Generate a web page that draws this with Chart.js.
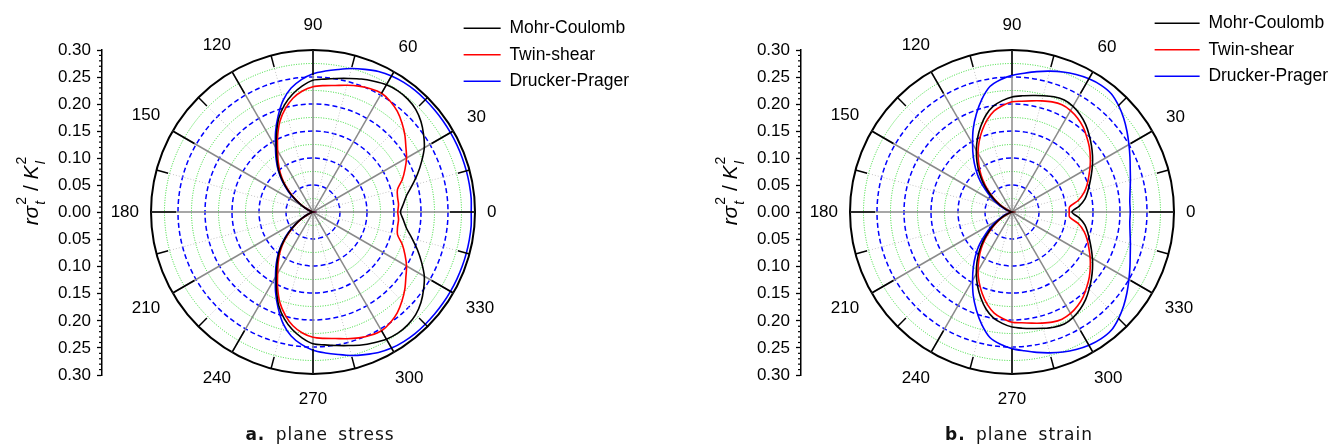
<!DOCTYPE html>
<html>
<head>
<meta charset="utf-8">
<script src="https://cdn.jsdelivr.net/npm/chart.js@4/dist/chart.umd.min.js"></script>
<style>
  body { margin: 0; background: #fff; }
  #page { position: relative; width: 1338px; height: 446px; overflow: hidden; }
  canvas { position: absolute; top: 0; }
  .caption { position: absolute; top: 424px; font: 17px "DejaVu Sans", sans-serif; letter-spacing: 1px; word-spacing: 4px; color: #111; transform: translateX(-50%); white-space: nowrap; }
</style>
</head>
<body>
<div id="page">
  <canvas id="stressChart" width="698" height="446" style="left:0"></canvas>
  <canvas id="strainChart" width="640" height="446" style="left:698px"></canvas>
  <div class="caption" style="left:320px"><b>a.</b> plane stress</div>
  <div class="caption" style="left:1019px"><b>b.</b> plane strain</div>
</div>
<script>
// polar angle of each sample, degrees (counter-clockwise from the crack line)
const angles = [0, 5, 10, 15, 20, 25, 30, 35, 40, 45, 50, 55, 60, 65, 70, 75, 80, 85,
  90, 95, 100, 105, 110, 115, 120, 125, 130, 135, 140, 145, 150, 155, 160, 165, 170, 175,
  180, 185, 190, 195, 200, 205, 210, 215, 220, 225, 230, 235, 240, 245, 250, 255, 260, 265,
  270, 275, 280, 285, 290, 295, 300, 305, 310, 315, 320, 325, 330, 335, 340, 345, 350, 355];
const angleTickLabels = [0, 30, 60, 90, 120, 150, 180, 210, 240, 270, 300, 330];
const seriesNames = ['Mohr-Coulomb', 'Twin-shear', 'Drucker-Prager'];
const seriesColors = ['#000000', '#ff0000', '#0000ff'];

// a. plane stress
const stressMohr = [0.162, 0.168, 0.176, 0.190, 0.206, 0.222, 0.238, 0.250, 0.261, 0.269, 0.273, 0.274,
  0.272, 0.267, 0.262, 0.256, 0.251, 0.247, 0.244, 0.234, 0.221, 0.205, 0.185, 0.160,
  0.136, 0.116, 0.098, 0.078, 0.058, 0.039, 0.023, 0.012, 0.005, 0.002, 0.001, 0,
  0, 0, 0.001, 0.002, 0.005, 0.012, 0.023, 0.039, 0.058, 0.078, 0.098, 0.116,
  0.136, 0.160, 0.185, 0.205, 0.221, 0.234, 0.244, 0.247, 0.251, 0.256, 0.262, 0.267,
  0.272, 0.274, 0.273, 0.269, 0.261, 0.250, 0.238, 0.222, 0.206, 0.190, 0.176, 0.168];
const stressTwin = [0.157, 0.159, 0.159, 0.162, 0.176, 0.188, 0.200, 0.210, 0.222, 0.233, 0.243, 0.250,
  0.254, 0.252, 0.248, 0.243, 0.238, 0.235, 0.232, 0.225, 0.214, 0.198, 0.179, 0.155,
  0.131, 0.112, 0.094, 0.075, 0.055, 0.037, 0.022, 0.011, 0.005, 0.002, 0.001, 0,
  0, 0, 0.001, 0.002, 0.005, 0.011, 0.022, 0.037, 0.055, 0.075, 0.094, 0.112,
  0.131, 0.155, 0.179, 0.198, 0.214, 0.225, 0.232, 0.235, 0.238, 0.243, 0.248, 0.252,
  0.254, 0.250, 0.243, 0.233, 0.222, 0.210, 0.200, 0.188, 0.176, 0.162, 0.159, 0.159];
const stressDrucker = [0.293, 0.294, 0.294, 0.294, 0.294, 0.294, 0.294, 0.294, 0.294, 0.294, 0.294, 0.293,
  0.291, 0.287, 0.281, 0.275, 0.268, 0.262, 0.256, 0.246, 0.233, 0.214, 0.189, 0.164,
  0.139, 0.119, 0.100, 0.080, 0.060, 0.041, 0.025, 0.013, 0.006, 0.002, 0.001, 0,
  0, 0, 0.001, 0.002, 0.006, 0.013, 0.025, 0.041, 0.060, 0.080, 0.100, 0.119,
  0.139, 0.164, 0.189, 0.214, 0.233, 0.246, 0.256, 0.262, 0.268, 0.275, 0.281, 0.287,
  0.291, 0.293, 0.294, 0.294, 0.294, 0.294, 0.294, 0.294, 0.294, 0.294, 0.294, 0.294];

// b. plane strain
const strainMohr = [0.111, 0.125, 0.137, 0.145, 0.153, 0.162, 0.172, 0.182, 0.192, 0.202, 0.212, 0.220,
  0.226, 0.229, 0.227, 0.223, 0.219, 0.216, 0.213, 0.207, 0.199, 0.186, 0.169, 0.151,
  0.132, 0.113, 0.094, 0.075, 0.056, 0.039, 0.025, 0.014, 0.006, 0.002, 0.001, 0,
  0, 0, 0.001, 0.002, 0.006, 0.014, 0.025, 0.039, 0.056, 0.075, 0.094, 0.113,
  0.132, 0.151, 0.169, 0.186, 0.199, 0.207, 0.213, 0.216, 0.219, 0.223, 0.227, 0.229,
  0.226, 0.220, 0.212, 0.202, 0.192, 0.182, 0.172, 0.162, 0.153, 0.145, 0.137, 0.125];
const strainTwin = [0.106, 0.107, 0.125, 0.138, 0.148, 0.157, 0.167, 0.177, 0.187, 0.196, 0.205, 0.212,
  0.217, 0.219, 0.217, 0.213, 0.209, 0.206, 0.204, 0.198, 0.190, 0.177, 0.161, 0.144,
  0.126, 0.107, 0.089, 0.070, 0.052, 0.036, 0.022, 0.012, 0.005, 0.002, 0.001, 0,
  0, 0, 0.001, 0.002, 0.005, 0.012, 0.022, 0.036, 0.052, 0.070, 0.089, 0.107,
  0.126, 0.144, 0.161, 0.177, 0.190, 0.198, 0.204, 0.206, 0.209, 0.213, 0.217, 0.219,
  0.217, 0.212, 0.205, 0.196, 0.187, 0.177, 0.167, 0.157, 0.148, 0.138, 0.125, 0.107];
const strainDrucker = [0.219, 0.219, 0.222, 0.227, 0.233, 0.241, 0.250, 0.260, 0.270, 0.279, 0.286, 0.287,
  0.285, 0.281, 0.276, 0.270, 0.264, 0.258, 0.253, 0.246, 0.236, 0.216, 0.193, 0.170,
  0.146, 0.125, 0.105, 0.085, 0.064, 0.047, 0.032, 0.020, 0.011, 0.005, 0.002, 0.001,
  0, 0.001, 0.002, 0.005, 0.011, 0.020, 0.032, 0.047, 0.064, 0.085, 0.105, 0.125,
  0.146, 0.170, 0.193, 0.216, 0.236, 0.246, 0.253, 0.258, 0.264, 0.270, 0.276, 0.281,
  0.285, 0.287, 0.286, 0.279, 0.270, 0.260, 0.250, 0.241, 0.233, 0.227, 0.222, 0.219];

Chart.defaults.font.family = '"Liberation Sans", Arial, sans-serif';
Chart.defaults.font.size = 17;
Chart.defaults.color = '#000';

// radar goes clockwise from its start angle, the plot goes counter-clockwise
const order = angles.map((_, i) => (angles.length - i) % angles.length);

function ringStyle(value) {
  const v = Math.round(value * 1000);
  if (v >= 300) return { color: '#000', width: 2, dash: [] };
  if (v % 50 === 25) return { color: '#2ed82e', width: 1, dash: [1, 1.5] };
  return { color: '#0000ff', width: 1.5, dash: [5, 3] };
}

function spokeStyle(deg) {
  if (deg % 30 === 0) return { color: '#8a8a8a', width: 1.5, dash: [] };
  if (deg % 15 === 0) return { color: '#c4c4c4', width: 1, dash: [1, 2] };
  return { color: 'rgba(0,0,0,0)', width: 0, dash: [] };
}

function drawAxisTitle(ctx, baseX, midY) {
  const main = 'italic 21px "Liberation Sans", Arial, sans-serif';
  const plain = '21px "Liberation Sans", Arial, sans-serif';
  const small = '14px "Liberation Sans", Arial, sans-serif';
  const smallIt = 'italic 14px "Liberation Sans", Arial, sans-serif';
  const pieces = [
    { text: 'r', font: main },
    { text: 'σ', font: main },
    { sub: 't', sup: '2' },
    { text: ' / ', font: plain },
    { text: 'K', font: main },
    { sub: 'I', sup: '2' }
  ];
  const widthOf = p => {
    if (p.text) { ctx.font = p.font; return ctx.measureText(p.text).width; }
    ctx.font = smallIt; const a = ctx.measureText(p.sub).width;
    ctx.font = small; const b = ctx.measureText(p.sup).width;
    return Math.max(a, b) + 1;
  };
  const total = pieces.reduce((s, p) => s + widthOf(p), 0);
  ctx.save();
  ctx.translate(baseX, midY);
  ctx.rotate(-Math.PI / 2);
  ctx.textAlign = 'left';
  ctx.textBaseline = 'alphabetic';
  let x = -total / 2;
  pieces.forEach(p => {
    const w = widthOf(p);
    if (p.text) {
      ctx.font = p.font;
      ctx.fillText(p.text, x, 0);
    } else {
      ctx.font = smallIt;
      ctx.fillText(p.sub, x + 1, 7);
      ctx.font = small;
      ctx.fillText(p.sup, x + 1, -12);
    }
    x += w;
  });
  ctx.restore();
}

const polarExtras = {
  id: 'polarExtras',
  afterDraw(chart) {
    const ctx = chart.ctx;
    const r = chart.scales.r;
    const y = chart.scales.y;
    const labels = chart.data.labels;
    ctx.save();
    // angular axis ticks, pointing inwards
    ctx.strokeStyle = '#000';
    ctx.lineWidth = 1.5;
    labels.forEach((deg, i) => {
      if (deg % 15 !== 0) return;
      const len = deg % 30 === 0 ? 25 : 12;
      const a = r.getPointPosition(i, r.drawingArea);
      const b = r.getPointPosition(i, r.drawingArea - len);
      ctx.beginPath();
      ctx.moveTo(a.x, a.y);
      ctx.lineTo(b.x, b.y);
      ctx.stroke();
    });
    // angle labels
    ctx.fillStyle = '#000';
    ctx.font = '17px "Liberation Sans", Arial, sans-serif';
    ctx.textAlign = 'center';
    ctx.textBaseline = 'middle';
    angleTickLabels.forEach(deg => {
      const i = labels.indexOf(deg);
      const rad = deg * Math.PI / 180;
      const w = ctx.measureText(String(deg)).width;
      const d = r.drawingArea + 12 + Math.abs(Math.cos(rad)) * w / 2 + Math.abs(Math.sin(rad)) * 13;
      const p = r.getPointPosition(i, d);
      ctx.fillText(String(deg), p.x, p.y);
    });
    // minor ticks of the left axis
    const x0 = y.right;
    ctx.lineWidth = 1.2;
    for (let k = -30; k <= 30; k++) {
      if (k % 5 === 0) continue;
      const py = y.getPixelForValue(k / 100);
      ctx.beginPath();
      ctx.moveTo(x0 - 3, py);
      ctx.lineTo(x0, py);
      ctx.stroke();
    }
    drawAxisTitle(ctx, x0 - 64, 191);
    ctx.restore();
  }
};

function makePanel(canvasId, values, box) {
  return new Chart(document.getElementById(canvasId), {
    type: 'radar',
    data: {
      labels: order.map(k => angles[k]),
      datasets: values.map((vals, s) => ({
        label: seriesNames[s],
        data: order.map(k => vals[k]),
        borderColor: seriesColors[s],
        backgroundColor: seriesColors[s],
        borderWidth: 1.6,
        pointRadius: 0,
        fill: false,
        tension: 0.3,
        clip: false
      }))
    },
    options: {
      responsive: false,
      animation: false,
      devicePixelRatio: 1,
      events: [],
      layout: { padding: { left: box.padLeft, top: box.padTop, right: box.padRight, bottom: 71 } },
      scales: {
        r: {
          min: 0,
          max: 0.3,
          startAngle: 90,
          ticks: { display: false, stepSize: 0.025 },
          pointLabels: { display: false },
          grid: {
            circular: true,
            color: c => ringStyle(c.tick.value).color,
            lineWidth: c => ringStyle(c.tick.value).width
          },
          border: { dash: c => ringStyle(c.tick.value).dash },
          angleLines: {
            color: c => spokeStyle(c.label).color,
            lineWidth: c => spokeStyle(c.label).width,
            borderDash: c => spokeStyle(c.label).dash
          },
          afterFit: s => { s.xCenter = Math.round(s.left + box.centerOffset); }
        },
        y: {
          type: 'linear',
          position: 'left',
          min: -0.3,
          max: 0.3,
          ticks: { stepSize: 0.05, padding: 6, callback: v => Math.abs(v).toFixed(2) },
          grid: { drawOnChartArea: false, tickLength: 5, tickColor: '#000', tickWidth: 1.3 },
          border: { color: '#000', width: 1.5 },
          afterFit: s => { s.width = 44; }
        }
      },
      plugins: {
        legend: {
          position: 'right',
          align: 'start',
          maxWidth: 400,
          labels: {
            usePointStyle: true,
            pointStyle: 'line',
            pointStyleWidth: box.legendLine,
            padding: 9,
            color: '#000',
            font: { size: 17.5 }
          }
        },
        title: { display: true, text: '', padding: { top: 0, bottom: box.spacer }, font: { size: 1, lineHeight: 1 } },
        tooltip: { enabled: false }
      }
    },
    plugins: [polarExtras]
  });
}

makePanel('stressChart', [stressMohr, stressTwin, stressDrucker],
  { padLeft: 58, padTop: 10.5, padRight: 59, spacer: 38.5, centerOffset: 211.3, legendLine: 37 });
makePanel('strainChart', [strainMohr, strainTwin, strainDrucker],
  { padLeft: 59, padTop: 5.5, padRight: 0, spacer: 43.5, centerOffset: 210.7, legendLine: 45 });
</script>
</body>
</html>
